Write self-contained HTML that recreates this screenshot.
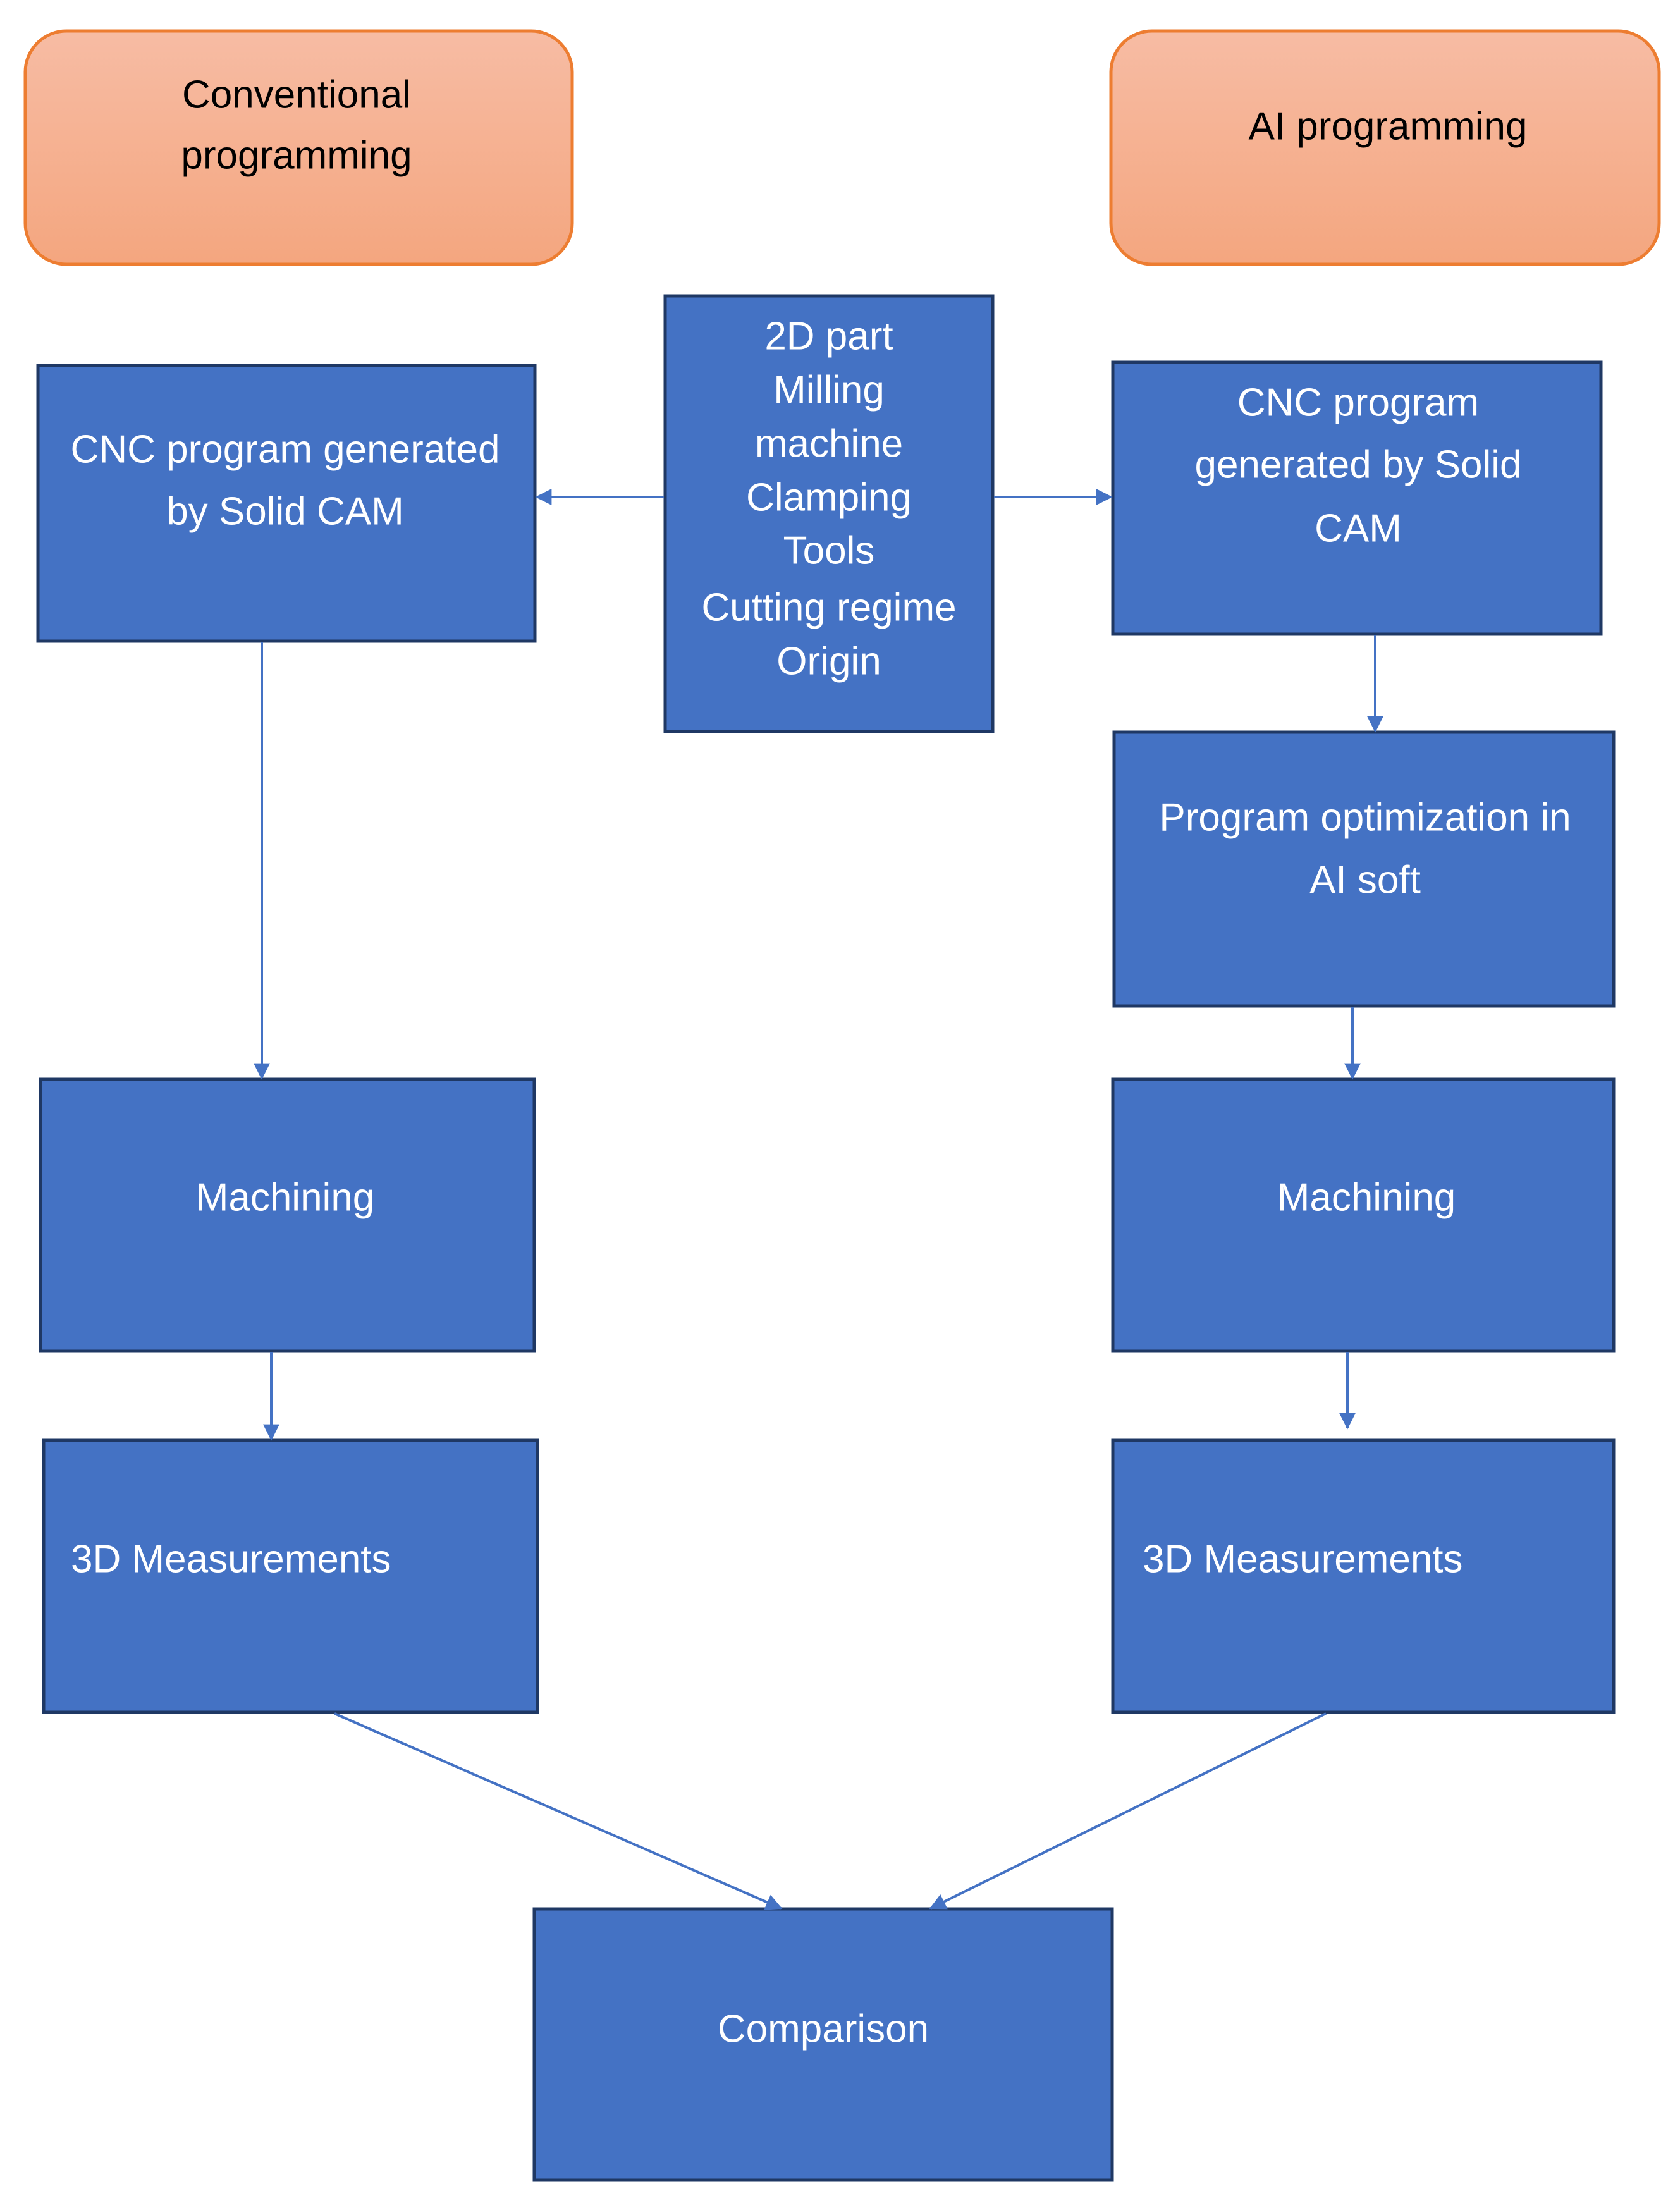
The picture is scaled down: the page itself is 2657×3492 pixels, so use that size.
<!DOCTYPE html>
<html><head><meta charset="utf-8"><style>html,body{margin:0;padding:0;background:#fff}svg{display:block}</style></head>
<body>
<svg width="2657" height="3492" viewBox="0 0 2657 3492" xmlns="http://www.w3.org/2000/svg" font-family="'Liberation Sans', sans-serif">
<defs>
<linearGradient id="og" x1="0" y1="0" x2="0" y2="1"><stop offset="0" stop-color="#F7BCA4"/><stop offset="1" stop-color="#F4A67F"/></linearGradient>
<marker id="a2" viewBox="0 0 10 10" refX="9" refY="5" markerWidth="30" markerHeight="26" orient="auto" markerUnits="userSpaceOnUse"><path d="M0,0 L10,5 L0,10 z" fill="#4472C4"/></marker>
</defs>
<g fill="url(#og)" stroke="#ED7D31" stroke-width="5">
<rect x="40" y="49" width="865" height="369" rx="65"/>
<rect x="1757" y="49" width="867" height="369" rx="65"/>
</g>
<g fill="#4472C4" stroke="#1F3864" stroke-width="5">
<rect x="60" y="578" width="786" height="436"/>
<rect x="1052" y="468" width="518" height="689"/>
<rect x="1760" y="573" width="772" height="430"/>
<rect x="1762" y="1158" width="790" height="433"/>
<rect x="64" y="1707" width="781" height="430"/>
<rect x="1760" y="1707" width="792" height="430"/>
<rect x="69" y="2278" width="781" height="430"/>
<rect x="1760" y="2278" width="792" height="430"/>
<rect x="845" y="3019" width="914" height="429"/>
</g>
<g stroke="#4472C4" stroke-width="4" fill="none" marker-end="url(#a2)">
<line x1="1050" y1="786" x2="849" y2="786"/>
<line x1="1572" y1="786" x2="1757" y2="786"/>
<line x1="414" y1="1016" x2="414" y2="1705"/>
<line x1="2175" y1="1005" x2="2175" y2="1156"/>
<line x1="2139" y1="1593" x2="2139" y2="1705"/>
<line x1="429" y1="2139" x2="429" y2="2276"/>
<line x1="2131" y1="2139" x2="2131" y2="2258"/>
<line x1="529" y1="2710" x2="1235" y2="3018"/>
<line x1="2097" y1="2710" x2="1472" y2="3018"/>
</g>
<g font-size="62" fill="#000" text-anchor="middle" dominant-baseline="central">
<text x="469" y="150">Conventional</text>
<text x="469" y="246">programming</text>
<text x="2195" y="200">AI programming</text>
</g>
<g font-size="62" fill="#fff" text-anchor="middle" dominant-baseline="central">
<text x="451" y="711">CNC program generated</text>
<text x="451" y="809">by Solid CAM</text>
<text x="1311" y="532">2D part</text>
<text x="1311" y="617">Milling</text>
<text x="1311" y="702">machine</text>
<text x="1311" y="787">Clamping</text>
<text x="1311" y="871">Tools</text>
<text x="1311" y="961">Cutting regime</text>
<text x="1311" y="1046">Origin</text>
<text x="2148" y="637">CNC program</text>
<text x="2148" y="735">generated by Solid</text>
<text x="2148" y="836">CAM</text>
<text x="2159" y="1293">Program optimization in</text>
<text x="2159" y="1392">AI soft</text>
<text x="451" y="1894">Machining</text>
<text x="2161" y="1894">Machining</text>
<text x="1302" y="3209">Comparison</text>
</g>
<g font-size="62" fill="#fff" dominant-baseline="central">
<text x="112" y="2466">3D Measurements</text>
<text x="1807" y="2466">3D Measurements</text>
</g>
</svg>
</body></html>
